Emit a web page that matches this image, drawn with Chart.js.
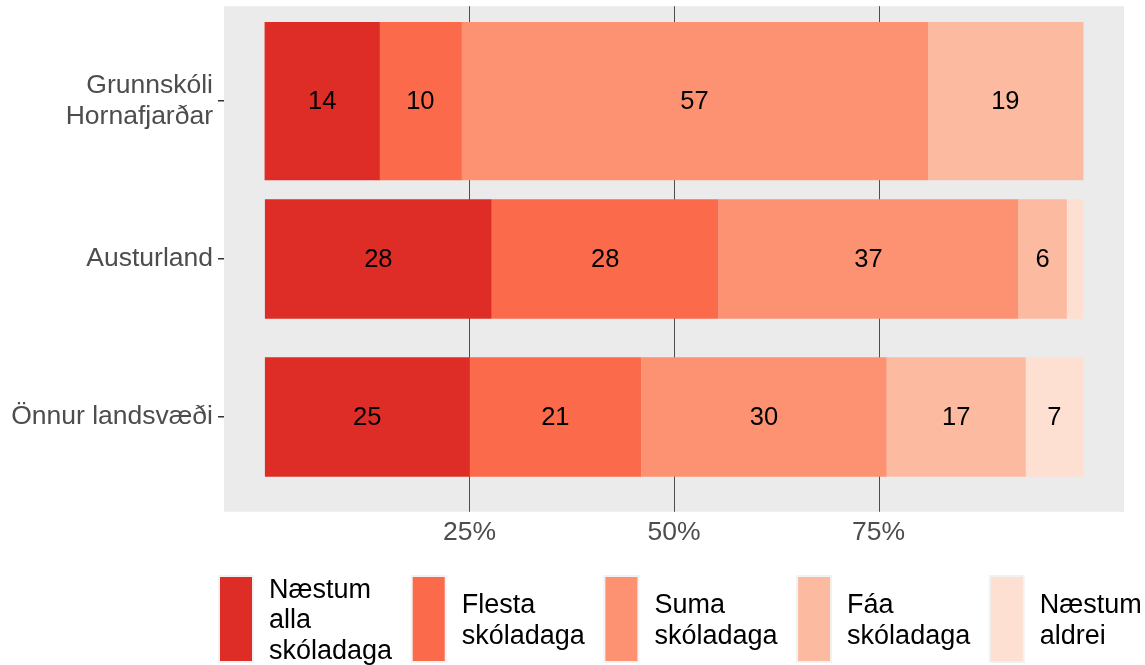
<!DOCTYPE html>
<html>
<head>
<meta charset="utf-8">
<script src="https://cdn.jsdelivr.net/npm/chart.js@4.4.0/dist/chart.umd.min.js"></script>
<style>
  html, body { margin: 0; padding: 0; background: #fff; }
</style>
</head>
<body>
<canvas id="schoolChart" width="1145" height="665"></canvas>
<script>
const regions = [['Grunnskóli', 'Hornafjarðar'], 'Austurland', 'Önnur landsvæði'];
const answers = [['Næstum', 'alla', 'skóladaga'], ['Flesta', 'skóladaga'], ['Suma', 'skóladaga'], ['Fáa', 'skóladaga'], ['Næstum', 'aldrei']];
const almostAll = [14, 28, 25];
const most = [10, 28, 21];
const some = [57, 37, 30];
const few = [19, 6, 17];
const almostNever = [0, 2, 7];
const xTicks = [25, 50, 75];

const series = [almostAll, most, some, few, almostNever];
const colors = ['#DE2D26', '#FB6A4A', '#FC9272', '#FCBBA1', '#FEE0D2'];
const rowTotals = regions.map((_, i) => series.reduce((s, arr) => s + arr[i], 0));

// the first row gets a thicker bar
const rowBarPct = [1, 0.755, 0.755];
const groups = [...new Set(rowBarPct)].map(p => ({
    pct: p,
    rows: rowBarPct.map((q, i) => q === p ? i : -1).filter(i => i >= 0)
}));

const datasets = [];
groups.forEach(g => {
    series.forEach((vals, k) => {
        datasets.push({
            label: answers[k].join(' '),
            raw: vals,
            data: vals.map((v, i) => g.rows.includes(i) ? v / rowTotals[i] * 100 : null),
            backgroundColor: colors[k],
            barPercentage: g.pct,
            categoryPercentage: 1,
            stack: 'all',
            borderWidth: 0
        });
    });
});

const FONT = "'Liberation Sans', Arial, sans-serif";
Chart.defaults.font.family = FONT;

// grey panel + vertical grid lines behind the bars
const panelBg = {
    id: 'panelBg',
    beforeDatasetsDraw(chart) {
        const { ctx, chartArea: a, scales } = chart;
        const ext = (a.bottom - a.top) / regions.length * 0.1;
        ctx.save();
        ctx.fillStyle = '#EBEBEB';
        ctx.fillRect(a.left, a.top - ext, a.right - a.left, a.bottom - a.top + 2 * ext);
        ctx.strokeStyle = '#4D4D4D';
        ctx.lineWidth = 1;
        xTicks.forEach(t => {
            const x = Math.round(scales.x.getPixelForValue(t)) + 0.5;
            ctx.beginPath();
            ctx.moveTo(x, a.top - ext);
            ctx.lineTo(x, a.bottom + ext);
            ctx.stroke();
        });
        ctx.restore();
    }
};

// value labels in the middle of each segment
const segLabels = {
    id: 'segLabels',
    afterDatasetsDraw(chart) {
        const { ctx } = chart;
        ctx.save();
        ctx.fillStyle = '#000';
        ctx.font = '25.5px ' + FONT;
        ctx.textAlign = 'center';
        ctx.textBaseline = 'middle';
        chart.data.datasets.forEach((ds, d) => {
            chart.getDatasetMeta(d).data.forEach((bar, i) => {
                if (ds.data[i] == null || ds.raw[i] < 4) return;
                ctx.fillText(String(ds.raw[i]), (bar.x + bar.base) / 2, bar.y + 1);
            });
        });
        ctx.restore();
    }
};

// legend row along the bottom
const bottomLegend = {
    id: 'bottomLegend',
    afterDraw(chart) {
        const { ctx } = chart;
        const keyW = 32, keyH = 84, keyTop = 577, left = 220, step = 192.7, lh = 30.5;
        ctx.save();
        ctx.font = '27px ' + FONT;
        ctx.textAlign = 'left';
        ctx.textBaseline = 'middle';
        answers.forEach((lines, k) => {
            const x = left + k * step;
            ctx.fillStyle = '#F2F2F2';
            ctx.fillRect(x - 2, keyTop - 2, keyW + 4, keyH + 4);
            ctx.fillStyle = colors[k];
            ctx.fillRect(x, keyTop, keyW, keyH);
            ctx.fillStyle = '#000';
            const mid = keyTop + keyH / 2 + 2;
            lines.forEach((line, j) => {
                ctx.fillText(line, x + 49, mid + (j - (lines.length - 1) / 2) * lh);
            });
        });
        ctx.restore();
    }
};

new Chart(document.getElementById('schoolChart'), {
    type: 'bar',
    data: { labels: regions, datasets: datasets },
    options: {
        indexAxis: 'y',
        responsive: false,
        animation: false,
        layout: { padding: { top: 22, right: 21, left: 0, bottom: 0 } },
        scales: {
            x: {
                stacked: true,
                min: -5,
                max: 105,
                afterBuildTicks: (scale) => { scale.ticks = xTicks.map(v => ({ value: v })); },
                afterFit: (scale) => { scale.height = 169; },
                grid: { display: false },
                border: { display: false },
                ticks: {
                    color: '#4D4D4D',
                    font: { size: 26.5 },
                    padding: 13,
                    maxRotation: 0,
                    callback: (v) => v + '%'
                }
            },
            y: {
                stacked: true,
                afterFit: (scale) => { scale.width = 224; },
                grid: {
                    drawOnChartArea: false,
                    drawTicks: true,
                    tickLength: 6,
                    offset: false,
                    color: '#333333',
                    lineWidth: 1.5
                },
                border: { display: false },
                ticks: {
                    color: '#4D4D4D',
                    font: { size: 26.5, lineHeight: 1.15 },
                    padding: 5
                }
            }
        },
        plugins: {
            legend: { display: false },
            tooltip: { enabled: false }
        }
    },
    plugins: [panelBg, segLabels, bottomLegend]
});
</script>
</body>
</html>
